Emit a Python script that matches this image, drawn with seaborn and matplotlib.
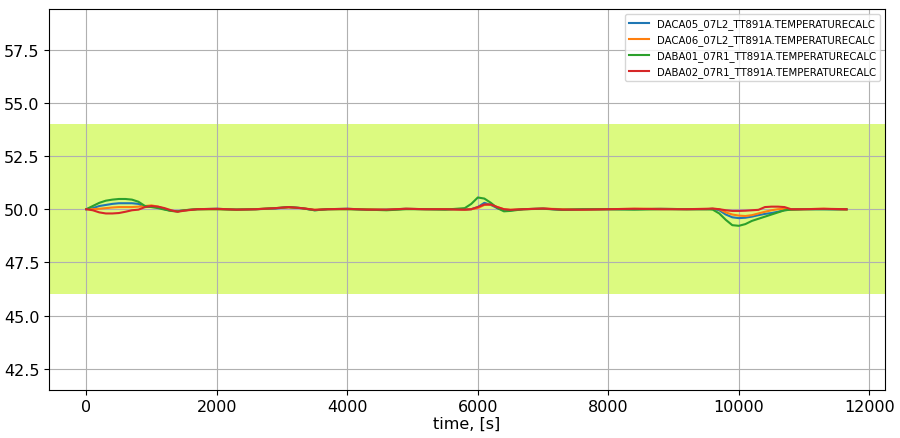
import matplotlib
matplotlib.use("Agg")
import matplotlib.pyplot as plt
from matplotlib.ticker import MultipleLocator
import pandas as pd
import seaborn as sns

time_s = [0, 100, 200, 300, 400, 500, 600, 700, 800, 900, 1000, 1100, 1200, 1300,
          1400, 1500, 1700, 2000, 2300, 2600, 2900, 3100, 3300, 3500, 3700, 4000,
          4300, 4600, 4900, 5200, 5500, 5800, 5900, 6000, 6100, 6200, 6300, 6400,
          6500, 6700, 7000, 7300, 7600, 8000, 8400, 8800, 9200, 9500, 9600, 9700,
          9800, 9900, 10000, 10100, 10200, 10300, 10400, 10500, 10600, 10700, 10800,
          11000, 11300, 11650]

daca05 = [50.0, 50.05, 50.15, 50.2, 50.25, 50.28, 50.28, 50.28, 50.25, 50.1, 50.12, 50.1,
          50.0, 49.92, 49.9, 49.95, 50.0, 50.02, 49.98, 50.0, 50.03, 50.1, 50.05, 49.95,
          50.0, 50.02, 49.98, 49.98, 50.02, 50.0, 50.0, 49.98, 50.0, 50.1, 50.3, 50.2,
          50.05, 49.95, 49.95, 50.0, 50.03, 49.97, 49.98, 50.0, 50.0, 50.02, 50.0, 50.0,
          50.02, 49.95, 49.75, 49.62, 49.58, 49.6, 49.65, 49.72, 49.78, 49.82, 49.88,
          49.95, 49.98, 50.0, 50.0, 49.98]

daca06 = [50.0, 50.0, 50.02, 50.05, 50.08, 50.1, 50.1, 50.1, 50.12, 50.15, 50.18, 50.12,
          50.02, 49.92, 49.9, 49.95, 50.0, 50.0, 49.98, 50.0, 50.05, 50.08, 50.05, 49.97,
          50.0, 50.0, 50.0, 49.97, 50.02, 50.0, 50.0, 49.98, 50.0, 50.05, 50.2, 50.22,
          50.1, 50.0, 49.97, 50.0, 50.03, 50.0, 49.98, 50.0, 50.02, 50.02, 50.0, 50.0,
          50.02, 50.0, 49.85, 49.75, 49.7, 49.68, 49.72, 49.8, 49.88, 49.95, 50.0,
          50.02, 49.98, 50.0, 50.02, 49.98]

daba01 = [50.0, 50.15, 50.3, 50.4, 50.45, 50.48, 50.48, 50.45, 50.35, 50.15, 50.1, 50.05,
          49.98, 49.92, 49.9, 49.95, 50.0, 50.0, 49.98, 50.0, 50.05, 50.1, 50.05, 49.95,
          50.0, 50.0, 49.98, 49.95, 50.0, 50.0, 49.98, 50.05, 50.25, 50.55, 50.5, 50.3,
          50.05, 49.9, 49.92, 50.0, 50.02, 49.97, 50.0, 50.0, 49.98, 50.0, 50.0, 50.0,
          49.98, 49.8, 49.5, 49.25, 49.22, 49.3, 49.45, 49.55, 49.65, 49.75, 49.85,
          49.95, 49.98, 50.0, 50.0, 50.0]

daba02 = [50.0, 49.95, 49.85, 49.8, 49.8, 49.82, 49.88, 49.95, 49.98, 50.1, 50.15, 50.12,
          50.05, 49.95, 49.88, 49.93, 50.0, 50.02, 49.98, 50.0, 50.05, 50.1, 50.05, 49.97,
          50.0, 50.02, 49.98, 49.98, 50.02, 50.0, 50.0, 49.98, 50.0, 50.1, 50.22, 50.22,
          50.1, 50.0, 49.97, 50.0, 50.03, 49.98, 49.98, 50.0, 50.02, 50.0, 50.0, 50.02,
          50.03, 50.0, 49.95, 49.92, 49.92, 49.93, 49.95, 49.97, 50.1, 50.12, 50.12,
          50.1, 50.0, 50.0, 50.02, 50.0]

series_names = ["DACA05_07L2_TT891A.TEMPERATURECALC",
                "DACA06_07L2_TT891A.TEMPERATURECALC",
                "DABA01_07R1_TT891A.TEMPERATURECALC",
                "DABA02_07R1_TT891A.TEMPERATURECALC"]
series_values = [daca05, daca06, daba01, daba02]

band_low, band_high = 46.0, 54.0

frames = []
for name, values in zip(series_names, series_values):
    frames.append(pd.DataFrame({"time": time_s, "value": values, "signal": name}))
data = pd.concat(frames, ignore_index=True)

fig = plt.figure(figsize=(9, 4.39), dpi=100)
ax = fig.add_axes([0.0541, 0.109, 0.9296, 0.868])
ax.axhspan(band_low, band_high, color="#dcfa80", zorder=0.3, lw=0)
sns.lineplot(data=data, x="time", y="value", hue="signal",
             palette=sns.color_palette("tab10", 4), linewidth=1.5, ax=ax)
ax.set_axisbelow(True)
ax.grid(True, color="#b0b0b0", linewidth=0.8)
ax.set_xlim(-576, 12245)
ax.set_ylim(41.5, 59.4)
ax.yaxis.set_major_locator(MultipleLocator(2.5))
ax.set_xlabel("time, [s]", fontsize=11.5, labelpad=1)
ax.set_ylabel("")
ax.tick_params(labelsize=11.5, pad=3)
ax.legend(loc="upper right", fontsize=7.3)

fig.savefig("out.png")
